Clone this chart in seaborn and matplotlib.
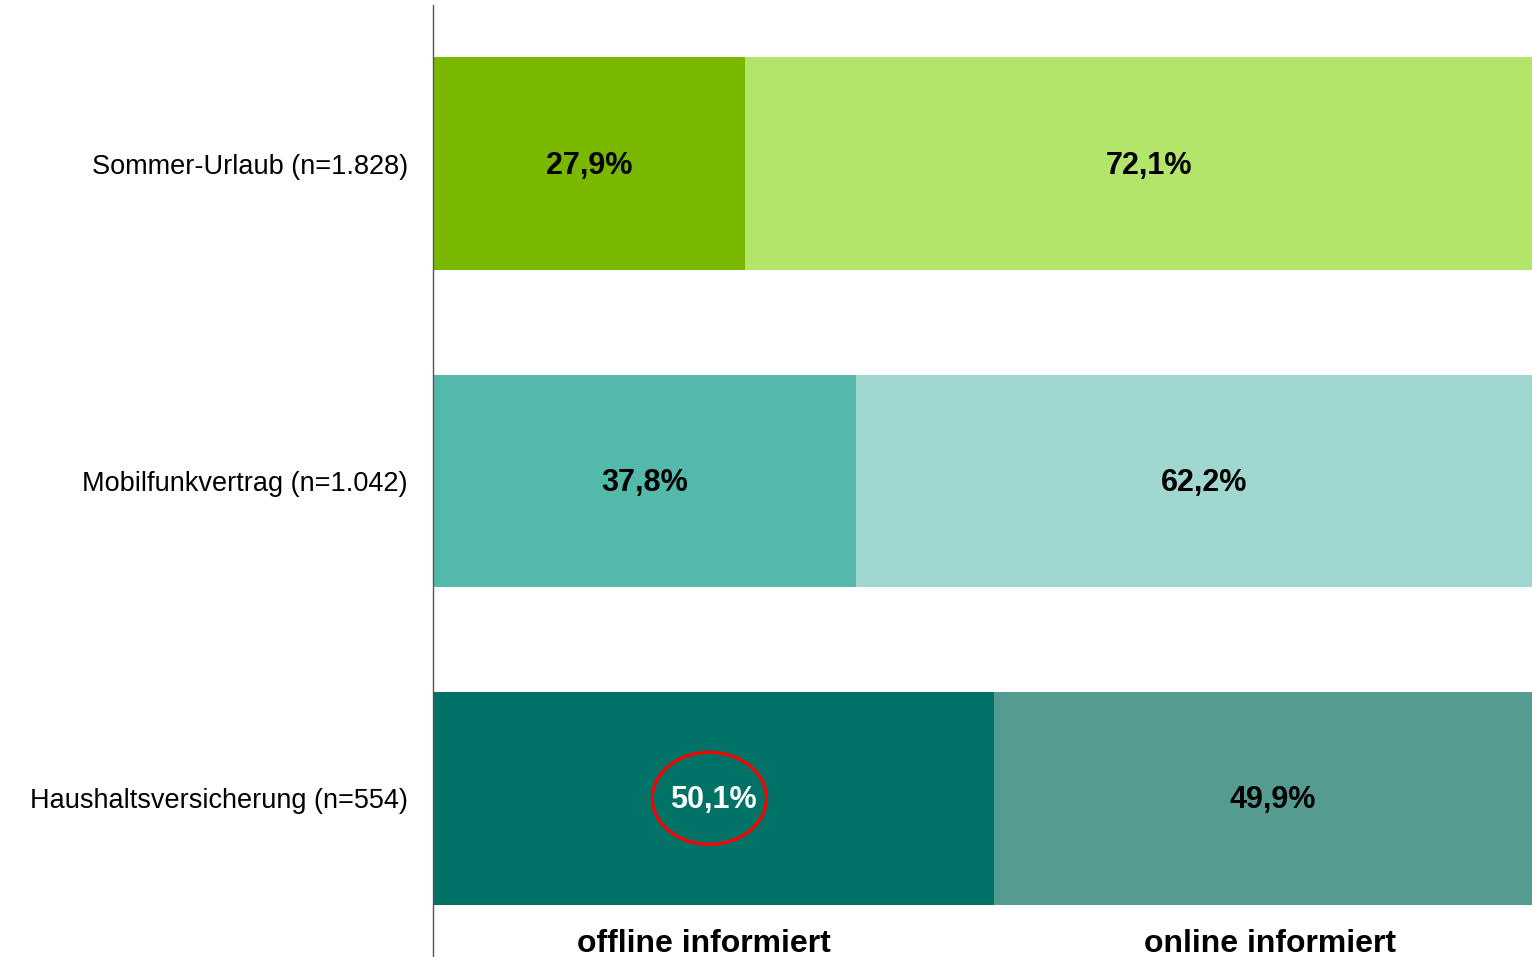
import numpy as np
import pandas as pd
import seaborn as sns
import matplotlib.pyplot as plt
from matplotlib.patches import Ellipse

categories = ["Sommer-Urlaub (n=1.828)", "Mobilfunkvertrag (n=1.042)", "Haushaltsversicherung (n=554)"]
offline = [27.9, 37.8, 50.1]
online = [72.1, 62.2, 49.9]
offline_colors = ["#7AB800", "#52B9AB", "#007366"]
online_colors = ["#B2E56A", "#A0D8D1", "#559B92"]
label_colors = ["black", "black", "white"]
segment_names = ["offline informiert", "online informiert"]

df = pd.DataFrame({"cat": categories, "offline": offline, "online": online})
df["total"] = df["offline"] + df["online"]

sns.set_style("white")
plt.rcParams["font.family"] = ["Liberation Sans", "DejaVu Sans"]

fig = plt.figure(figsize=(15.32, 9.57), dpi=100)
ax = fig.add_axes([433 / 1532, 0.0, 1119 / 1532, 952 / 957])

# online part first (full length), offline drawn on top
sns.barplot(data=df, y="cat", x="total", hue="cat", palette=online_colors,
            legend=False, width=0.67, saturation=1, linewidth=0, ax=ax, orient="h")
sns.barplot(data=df, y="cat", x="offline", hue="cat", palette=offline_colors,
            legend=False, width=0.67, saturation=1, linewidth=0, ax=ax, orient="h")

for i in range(len(categories)):
    ax.text(offline[i] / 2, i + 0.006, f"{offline[i]:.1f}%".replace(".", ","),
            ha="center", va="center", fontsize=22, fontweight="bold", color=label_colors[i])
    ax.text(offline[i] + online[i] / 2, i + 0.006, f"{online[i]:.1f}%".replace(".", ","),
            ha="center", va="center", fontsize=22, fontweight="bold", color="black")

ax.add_patch(Ellipse((24.7, 2.0), 10.2, 0.29, fill=False, edgecolor="red", linewidth=2.3))

ax.text(24.2, 2.46, segment_names[0], ha="center", va="center", fontsize=23, fontweight="bold", color="black")
ax.text(74.8, 2.46, segment_names[1], ha="center", va="center", fontsize=23, fontweight="bold", color="black")

ax.set_xlim(0, 100)
ax.set_ylim(2.5, -0.5)
ax.set_xlabel("")
ax.set_ylabel("")
ax.set_xticks([])
ax.tick_params(axis="y", length=0, pad=18, labelsize=19.5, labelcolor="black")
for s in ["top", "right", "bottom"]:
    ax.spines[s].set_visible(False)
ax.spines["left"].set_color("#555555")
ax.spines["left"].set_linewidth(1)

fig.savefig("out.png", dpi=100)
